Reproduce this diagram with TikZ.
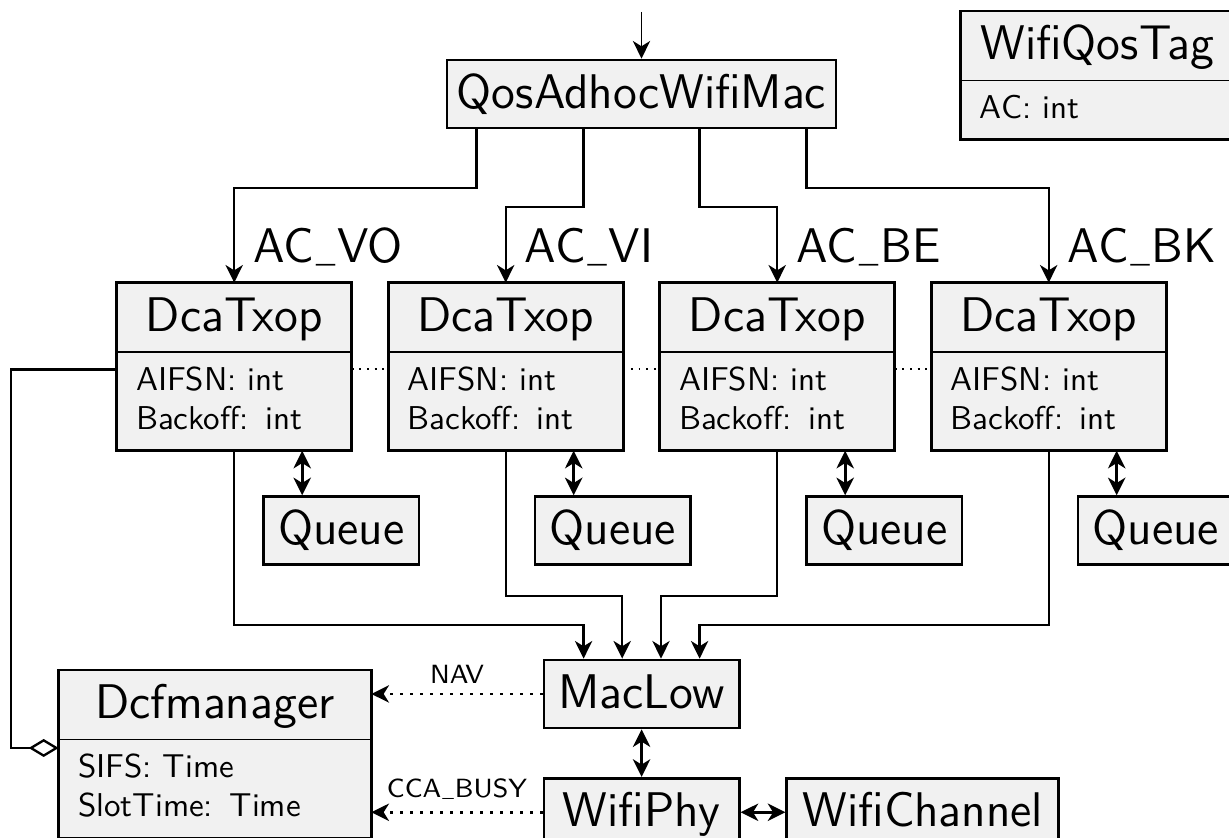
\documentclass[tikz,border=0pt]{standalone}
\usepackage{graphicx}
\usepackage{tikz}
\usetikzlibrary{arrows.meta,positioning,calc}
\renewcommand{\familydefault}{\sfdefault}
\definecolor{boxfill}{RGB}{241,241,241}
\newcommand{\boxfont}{\fontsize{14.6}{17.5}\selectfont}
\newcommand{\attrfont}{\fontsize{9.9}{11.7}\selectfont}
\newcommand{\sigfont}{\fontsize{7.9}{9.5}\selectfont}
\newcommand{\us}{\kern.04em\scalebox{0.62}[0.45]{\_}\kern.04em}
\tikzset{
  box/.style={draw, fill=boxfill, line width=0.8pt, inner sep=0pt, anchor=base,
    text height=14.5pt, text depth=5.9pt, font=\boxfont},
  head/.style={fill=boxfill, inner sep=0pt, anchor=base,
    text height=14.5pt, text depth=5.9pt, font=\boxfont},
  body/.style={fill=boxfill, inner xsep=5.6pt, inner ysep=0pt, align=left,
    text height=11.4pt, font=\attrfont},
  frame/.style={line width=0.8pt},
  split/.style={line width=0.45pt},
  tip/.tip={Stealth[length=5.3pt,width=5.2pt,inset=1.6pt]},
  flow/.style={line width=0.7pt, -tip},
  both/.style={line width=0.8pt, tip-tip},
  sig/.style={line width=0.8pt, dash pattern=on 0.8pt off 2.2pt, -tip},
  aggr/.style={line width=0.7pt, -{Diamond[open,length=9pt,width=5.4pt]}},
  link/.style={line width=0.55pt, dash pattern=on 0.55pt off 1.75pt},
  tag/.style={font=\boxfont, inner sep=0pt, anchor=base west},
  lbl/.style={font=\sigfont, inner sep=0pt, anchor=base}
}
\begin{document}
\begin{tikzpicture}[x=0.3pt, y=-0.3pt]
\useasboundingbox (0,0) rectangle (1229,838);
\clip (0,0) rectangle (1229,838);
% MAC
\coordinate (in) at (641.5,12);
\node[box, minimum width=116.7pt] (qawm) at (641.5,108.3) {QosAdhocWifiMac};
\draw[flow, line width=0.5pt] (in) -- (qawm.north);
% Tag
\node[head, minimum width=81.6pt] (tag) at (1097.3,60) {WifiQosTag};
\node[body, text width=70.4pt, text depth=6pt, below=0pt of tag] (tagb) {AC: int};
\draw[frame] (tag.north west) rectangle (tagb.south east);
\draw[split] (tag.south west) -- (tag.south east);
% Txops
\node[head, minimum width=70.1pt] (dca1) at (234.2,331.7) {DcaTxop};
\node[body, text width=58.9pt, text depth=17.8pt, below=0pt of dca1] (dca1b) {AIFSN: int\\Backoff: int};
\draw[frame] (dca1.north west) rectangle (dca1b.south east);
\draw[split] (dca1.south west) -- (dca1.south east);
\node[head, minimum width=70.1pt] (dca2) at (505.7,331.7) {DcaTxop};
\node[body, text width=58.9pt, text depth=17.8pt, below=0pt of dca2] (dca2b) {AIFSN: int\\Backoff: int};
\draw[frame] (dca2.north west) rectangle (dca2b.south east);
\draw[split] (dca2.south west) -- (dca2.south east);
\node[head, minimum width=70.1pt] (dca3) at (777.2,331.7) {DcaTxop};
\node[body, text width=58.9pt, text depth=17.8pt, below=0pt of dca3] (dca3b) {AIFSN: int\\Backoff: int};
\draw[frame] (dca3.north west) rectangle (dca3b.south east);
\draw[split] (dca3.south west) -- (dca3.south east);
\node[head, minimum width=70.1pt] (dca4) at (1048.7,331.7) {DcaTxop};
\node[body, text width=58.9pt, text depth=17.8pt, below=0pt of dca4] (dca4b) {AIFSN: int\\Backoff: int};
\draw[frame] (dca4.north west) rectangle (dca4b.south east);
\draw[split] (dca4.south west) -- (dca4.south east);
\draw[link] ([yshift=-26pt]dca1.north east) -- ([yshift=-26pt]dca2.north west);
\draw[link] ([yshift=-26pt]dca2.north east) -- ([yshift=-26pt]dca3.north west);
\draw[link] ([yshift=-26pt]dca3.north east) -- ([yshift=-26pt]dca4.north west);
% Access classes
\draw[flow] ($(qawm.south)+(-165,0)$) -- ++(0,58.7) -| (dca1.north);
\draw[flow] ($(qawm.south)+(-58,0)$) -- ++(0,77.7) -| (dca2.north);
\draw[flow] ($(qawm.south)+(58,0)$) -- ++(0,77.7) -| (dca3.north);
\draw[flow] ($(qawm.south)+(165,0)$) -- ++(0,58.7) -| (dca4.north);
\node[tag] (acvo) at ($(dca1.north)+(18.5,-20)$) {AC\us VO};
\node[tag] (acvi) at ($(dca2.north)+(18.5,-20)$) {AC\us VI};
\node[tag] (acbe) at ($(dca3.north)+(18.5,-20)$) {AC\us BE};
\node[tag] (acbk) at ($(dca4.north)+(18.5,-20)$) {AC\us BK};
% Queues
\node[box, minimum width=46.7pt] (q1) at (341.2,545) {Queue};
\node[box, minimum width=46.7pt] (q2) at (612.7,545) {Queue};
\node[box, minimum width=46.7pt] (q3) at (884.2,545) {Queue};
\node[box, minimum width=46.7pt] (q4) at (1155.7,545) {Queue};
\draw[both] ($(dca1b.south)+(68,0)$) -- ($(q1.north)+(-39,0)$);
\draw[both] ($(dca2b.south)+(68,0)$) -- ($(q2.north)+(-39,0)$);
\draw[both] ($(dca3b.south)+(68,0)$) -- ($(q3.north)+(-39,0)$);
\draw[both] ($(dca4b.south)+(68,0)$) -- ($(q4.north)+(-39,0)$);
% Low
\node[box, minimum width=58.6pt] (maclow) at (641.6,708.3) {MacLow};
\node[box, minimum width=58.6pt] (phy) at (641.6,826.6) {WifiPhy};
\node[box, minimum width=81.6pt] (chan) at (922.8,826.6) {WifiChannel};
\draw[flow] (dca1b.south) -- ++(0,174) -| ($(maclow.north)+(-58,0)$);
\draw[flow] (dca2b.south) -- ++(0,145) -| ($(maclow.north)+(-19.4,0)$);
\draw[flow] (dca3b.south) -- ++(0,145) -| ($(maclow.north)+(19.4,0)$);
\draw[flow] (dca4b.south) -- ++(0,174) -| ($(maclow.north)+(58,0)$);
\draw[both] (maclow.south) -- (phy.north);
\draw[both] (phy.east) -- (chan.west);
% Dcf
\node[head, minimum width=93.4pt] (dcf) at (215,719) {Dcfmanager};
\node[body, text width=82.2pt, text depth=17.8pt, below=0pt of dcf] (dcfb) {SIFS: Time\\SlotTime: Time};
\draw[frame] (dcf.north west) rectangle (dcfb.south east);
\draw[split] (dcf.south west) -- (dcf.south east);
\draw[aggr] ([yshift=-26pt]dca1.north west) -- ++(-105.6,0) |- ([yshift=-23.4pt]dcf.north west);
\draw[sig] (maclow.west) -- (maclow.west -| dcf.east) node[lbl, midway, yshift=3pt] (nav) {NAV};
\draw[sig] (phy.west) -- (phy.west -| dcf.east) node[lbl, midway, yshift=4.3pt] (cca) {CCA\us BUSY};
\end{tikzpicture}
\end{document}
